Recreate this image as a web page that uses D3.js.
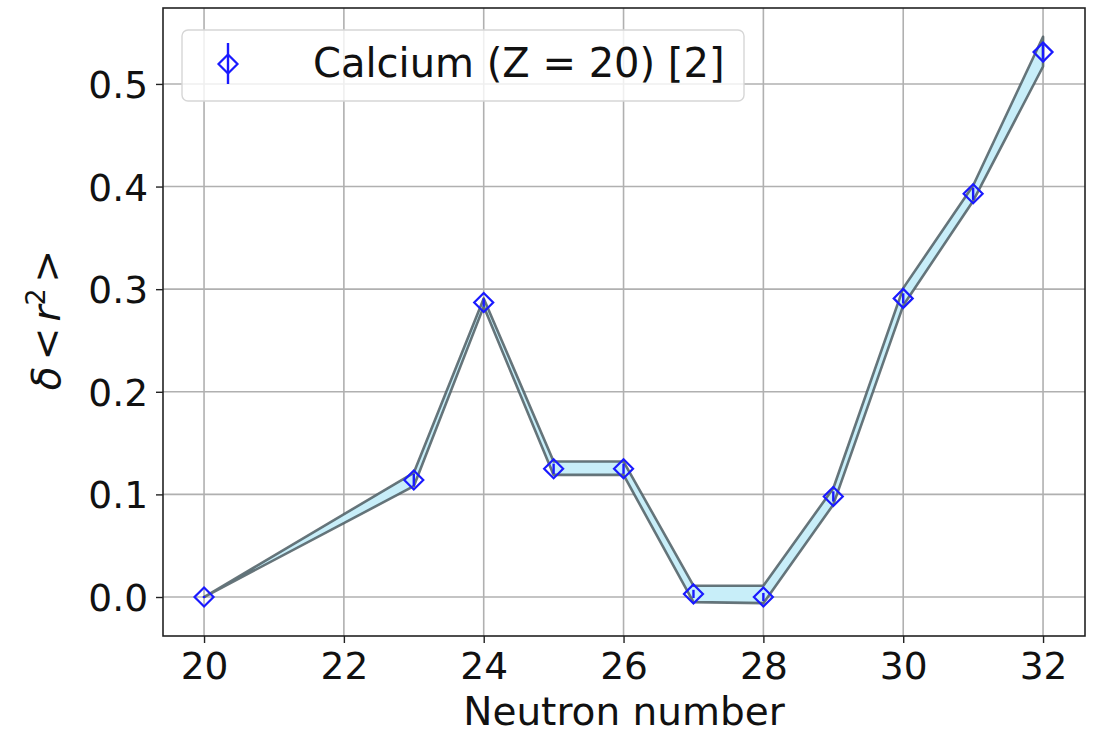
<!DOCTYPE html>
<html>
<head>
<meta charset="UTF-8">
<script src="https://d3js.org/d3.v7.min.js"></script>
<style>
  body { margin: 0; background: #fff; }
  svg { display: block; font-family: "DejaVu Sans", sans-serif; }
</style>
</head>
<body>
<svg width="1094" height="736"></svg>
<script>
    // data
    const neutrons = [20, 23, 24, 25, 26, 27, 28, 29, 30, 31, 32];
    const radius   = [0.000, 0.114, 0.287, 0.125, 0.125, 0.003, 0.000, 0.098, 0.291, 0.393, 0.531];
    const errors   = [0.001, 0.006, 0.004, 0.005, 0.005, 0.004, 0.004, 0.005, 0.005, 0.006, 0.007];
    const bandLow  = [0.000, 0.108, 0.283, 0.119, 0.119, -0.005, -0.006, 0.090, 0.284, 0.386, 0.517];
    const bandHigh = [0.000, 0.121, 0.291, 0.132, 0.132, 0.011, 0.011, 0.106, 0.301, 0.401, 0.546];
    const xTicks = [20, 22, 24, 26, 28, 30, 32];
    const yTicks = [0.0, 0.1, 0.2, 0.3, 0.4, 0.5];

    const margin = {top: 8, right: 9, bottom: 100, left: 163};
    const width = 1094 - margin.left - margin.right;
    const height = 736 - margin.top - margin.bottom;

    const svg = d3.select("svg");
    const g = svg.append("g").attr("transform", `translate(${margin.left},${margin.top})`);

    const x = d3.scaleLinear().domain([19.413, 32.6]).range([0, width]);
    const y = d3.scaleLinear().domain([-0.038, 0.574]).range([height, 0]);

    // grid
    g.append("g").selectAll("line").data(xTicks).join("line")
        .attr("x1", d => x(d)).attr("x2", d => x(d))
        .attr("y1", 0).attr("y2", height)
        .attr("stroke", "#b0b0b0").attr("stroke-width", 1.6);
    g.append("g").selectAll("line").data(yTicks).join("line")
        .attr("y1", d => y(d)).attr("y2", d => y(d))
        .attr("x1", 0).attr("x2", width)
        .attr("stroke", "#b0b0b0").attr("stroke-width", 1.6);

    // uncertainty band
    const pts = neutrons.map((n, i) => ({n, lo: bandLow[i], hi: bandHigh[i]}));
    const band = d3.area().x(d => x(d.n)).y0(d => y(d.lo)).y1(d => y(d.hi));
    g.append("path").datum(pts)
        .attr("d", band)
        .attr("fill", "#c8eef9")
        .attr("stroke", "#4d5d63")
        .attr("stroke-opacity", 0.85)
        .attr("stroke-width", 2.6)
        .attr("stroke-linejoin", "round");

    // error bars + markers
    const dataPts = neutrons.map((n, i) => ({n, v: radius[i], e: errors[i]}));
    const diamond = "M0,-9.5L9.5,0L0,9.5L-9.5,0Z";
    g.append("g").selectAll("line").data(dataPts).join("line")
        .attr("x1", d => x(d.n)).attr("x2", d => x(d.n))
        .attr("y1", d => y(d.v - d.e)).attr("y2", d => y(d.v + d.e))
        .attr("stroke", "#1a1aff").attr("stroke-width", 2.4);
    g.append("g").selectAll("path").data(dataPts).join("path")
        .attr("transform", d => `translate(${x(d.n)},${y(d.v)})`)
        .attr("d", diamond)
        .attr("fill", "none")
        .attr("stroke", "#1a1aff")
        .attr("stroke-width", 2.2);

    // axes
    const xAxis = g.append("g").attr("transform", `translate(0,${height})`)
        .call(d3.axisBottom(x).tickValues(xTicks).tickSize(7).tickPadding(8).tickFormat(d3.format("d")));
    const yAxis = g.append("g")
        .call(d3.axisLeft(y).tickValues(yTicks).tickSize(7).tickPadding(8).tickFormat(d3.format(".1f")));
    [xAxis, yAxis].forEach(a => {
        a.select(".domain").remove();
        a.selectAll("line").attr("stroke", "#222").attr("stroke-width", 1.4);
        a.selectAll("text").attr("font-size", 37.5).attr("fill", "#111")
            .attr("font-family", "DejaVu Sans");
    });
    yAxis.selectAll("text").attr("dy", "0.36em");
    xAxis.selectAll("text").attr("dy", "0.74em");

    g.append("rect").attr("width", width).attr("height", height)
        .attr("fill", "none").attr("stroke", "#222").attr("stroke-width", 1.6);

    // labels
    svg.append("text")
        .attr("x", margin.left + width / 2).attr("y", 725)
        .attr("text-anchor", "middle").attr("font-size", 39).attr("fill", "#111")
        .text("Neutron number");

    const yl = svg.append("text")
        .attr("transform", `translate(60,${margin.top + y(0.27)}) rotate(-90)`)
        .attr("text-anchor", "middle").attr("font-size", 39).attr("fill", "#111");
    yl.append("tspan").attr("font-style", "italic").text("δ");
    yl.append("tspan").attr("dx", 6).text("<");
    yl.append("tspan").attr("dx", 6).attr("font-style", "italic").text("r");
    yl.append("tspan").attr("font-size", 27).attr("dy", -15).text("2");
    yl.append("tspan").attr("dx", 6).attr("dy", 15).text(">");

    // legend
    const lg = svg.append("g");
    lg.append("rect").attr("x", 182).attr("y", 30).attr("width", 562).attr("height", 71)
        .attr("rx", 6).attr("fill", "#fff").attr("fill-opacity", 0.8)
        .attr("stroke", "#d6d6d6").attr("stroke-width", 1.4);
    lg.append("line").attr("x1", 228).attr("x2", 228).attr("y1", 43).attr("y2", 84)
        .attr("stroke", "#1a1aff").attr("stroke-width", 2.4);
    lg.append("path").attr("transform", "translate(228,64)").attr("d", diamond)
        .attr("fill", "none").attr("stroke", "#1a1aff").attr("stroke-width", 2.2);
    lg.append("text").attr("x", 313).attr("y", 77).attr("font-size", 40).attr("fill", "#111")
        .text("Calcium (Z = 20) [2]");
</script>
</body>
</html>
